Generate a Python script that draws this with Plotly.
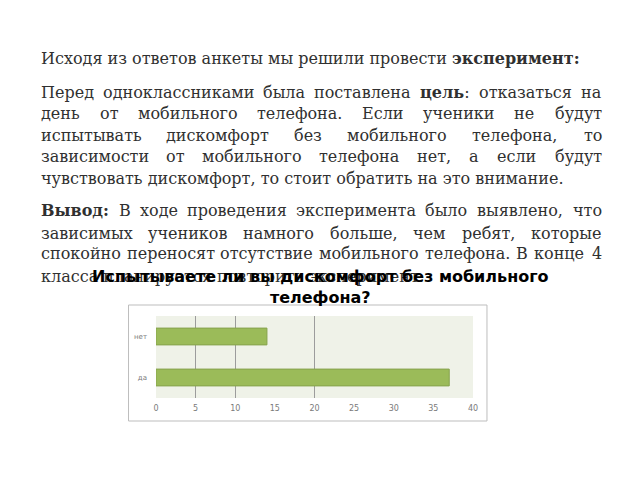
"""Страница с текстом эксперимента и диаграммой ответов."""

import glob
import re
import plotly.graph_objects as go

W, H = 640, 480
# поправка: как страница ложится на снимок
X_SHIFT, X_SCALE, Y_SHIFT = 10.3, 0.989, 8

# данные диаграммы
categories = ["да", "нет"]
answers = [37, 14]
x_ticks = [0, 5, 10, 15, 20, 25, 30, 35, 40]
grid_ticks = [5, 10, 20, 40]

chart_title = "Испытываете ли вы дискомфорт без мобильного<br>телефона?"

# текст страницы: (строка, по ширине?, y в пикселях)
text_lines = [
    ("Исходя из ответов анкеты мы решили провести <b>эксперимент:</b>", False, 59),
    ("Перед одноклассниками была поставлена <b>цель</b>: отказаться на", True, 92),
    ("день от мобильного телефона. Если ученики не будут", True, 113.5),
    ("испытывать дискомфорт без мобильного телефона, то", True, 135),
    ("зависимости от мобильного телефона нет, а если будут", True, 156.5),
    ("чувствовать дискомфорт, то стоит обратить на это внимание.", False, 178),
    ("<b>Вывод:</b> В ходе проведения эксперимента было выявлено, что", True, 211),
    ("зависимых учеников намного больше, чем ребят, которые", True, 233),
    ("спокойно переносят отсутствие  мобильного телефона. В конце 4", True, 254),
    ("класса планируется повторить эксперимент.", False, 276),
]

TEXT_LEFT, TEXT_RIGHT = 38, 604
FONT_SIZE = 16
TEXT_FONT = dict(family="DejaVu Serif", size=FONT_SIZE, color="#303030")


def px(x):
    return (x - X_SHIFT) / X_SCALE / W


def py(y):
    return 1 - (y - Y_SHIFT) / H


# ширина слов: по файлу шрифта, если получится
def load_fonts():
    try:
        from PIL import ImageFont
    except Exception:
        return None
    reg = glob.glob("/usr/share/fonts/**/DejaVuSerif.ttf", recursive=True)
    bold = glob.glob("/usr/share/fonts/**/DejaVuSerif-Bold.ttf", recursive=True)
    if not reg or not bold:
        return None
    return (ImageFont.truetype(reg[0], FONT_SIZE),
            ImageFont.truetype(bold[0], FONT_SIZE))


FONTS = load_fonts()


def word_width(w):
    parts = re.split(r"(<b>.*?</b>)", w)
    total = 0
    for p in parts:
        if not p:
            continue
        is_bold = p.startswith("<b>")
        s = re.sub(r"<[^>]+>", "", p)
        if FONTS:
            total += FONTS[1 if is_bold else 0].getlength(s)
        else:
            total += len(s) * (10.0 if is_bold else 9.0)
    return total * X_SCALE


annotations = []
for line, justify, y in text_lines:
    if not justify:
        annotations.append(dict(
            text=line, x=px(TEXT_LEFT), y=py(y), xref="paper", yref="paper",
            xanchor="left", yanchor="middle", showarrow=False, font=TEXT_FONT
        ))
        continue
    words = line.split()
    widths = [word_width(w) for w in words]
    inner_left, inner_right = TEXT_LEFT + 3, TEXT_RIGHT - 3
    gap = (inner_right - inner_left - sum(widths)) / (len(words) - 1)
    pos = inner_left
    for i, (w, wd) in enumerate(zip(words, widths)):
        if i == 0:
            x, anchor = TEXT_LEFT, "left"
        elif i == len(words) - 1:
            x, anchor = TEXT_RIGHT, "right"
        else:
            x, anchor = pos + wd / 2, "center"
        annotations.append(dict(
            text=w, x=px(x), y=py(y), xref="paper", yref="paper",
            xanchor=anchor, yanchor="middle", showarrow=False, font=TEXT_FONT
        ))
        pos += wd + gap

# заголовок диаграммы поверх текста
annotations.append(dict(
    text="<b>" + chart_title + "</b>", x=px(320), y=py(286.5),
    xref="paper", yref="paper", xanchor="center", yanchor="middle",
    showarrow=False,
    font=dict(family="DejaVu Sans", size=16, color="#000000")
))

fig = go.Figure()

fig.add_trace(go.Bar(
    x=answers,
    y=categories,
    orientation='h',
    marker=dict(color='#9BBB59', line=dict(color='#86A34C', width=1)),
    showlegend=False,
    hoverinfo='skip'
))

# невидимый след для второй оси с сеткой
fig.add_trace(go.Scatter(
    x=[0, 40], y=categories, xaxis='x2', mode='markers',
    marker=dict(opacity=0), showlegend=False, hoverinfo='skip'
))

fig.update_layout(
    width=W,
    height=H,
    margin=dict(l=0, r=0, t=0, b=0),
    paper_bgcolor='white',
    plot_bgcolor='#EFF2E8',
    bargap=0.59,
    xaxis=dict(
        domain=[px(155.5), px(473)],
        range=[0, 40],
        tickvals=x_ticks,
        showgrid=False,
        zeroline=False,
        showline=False,
        ticks='',
        ticklabelstandoff=4,
        tickfont=dict(family="DejaVu Sans", size=8, color='#7A7A7A'),
        anchor='y'
    ),
    xaxis2=dict(
        overlaying='x',
        range=[0, 40],
        tickvals=grid_ticks,
        showgrid=True,
        gridcolor='#9C9C9C',
        gridwidth=1,
        showticklabels=False,
        zeroline=False,
        side='top',
        anchor='y'
    ),
    yaxis=dict(
        domain=[py(398), py(316)],
        categoryorder='array',
        categoryarray=categories,
        showgrid=False,
        zeroline=False,
        ticks='',
        ticklabelstandoff=8,
        tickfont=dict(family="DejaVu Sans", size=7, color='#7A7A7A')
    ),
    shapes=[dict(
        type='rect', xref='paper', yref='paper',
        x0=px(128), x1=px(487), y0=py(421), y1=py(305),
        line=dict(color='#BDBDBD', width=1), layer='below'
    )],
    annotations=annotations
)

fig.write_html("out.html")
